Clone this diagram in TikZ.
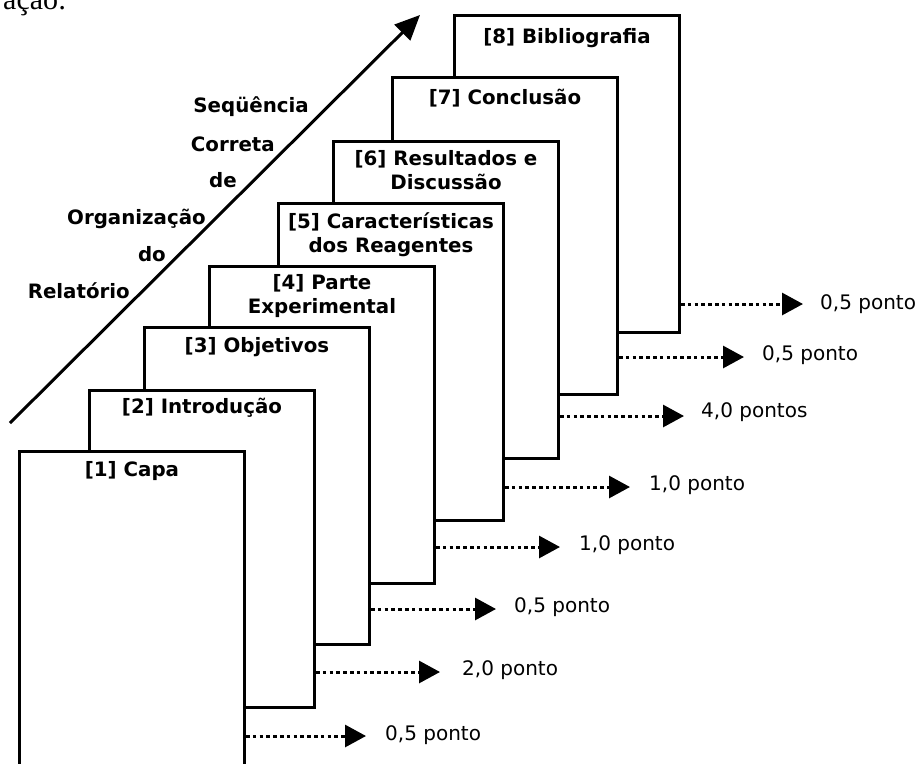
\documentclass[tikz,border=0pt]{standalone}
\usepackage{fontspec}
\setmainfont{DejaVu Sans}
\newfontfamily\serifpart{Liberation Serif}
\usetikzlibrary{arrows.meta}
\tikzset{
  pg/.style={draw, line width=3pt, fill=white, minimum width=225pt, minimum height=317pt, inner sep=0pt, anchor=north west},
  ttl/.style={font=\bfseries\fontsize{19.8}{24}\selectfont, align=center, inner sep=0pt, anchor=base},
  pts/.style={font=\fontsize{20}{24}\selectfont, inner sep=0pt, anchor=base west},
  seqw/.style={font=\bfseries\fontsize{19.8}{24}\selectfont, inner sep=0pt, anchor=base east},
  dotarr/.style={line width=3pt, dash pattern=on 3.5pt off 3.3pt, -{Triangle[length=21pt,width=22pt]}},
  mainarr/.style={line width=3pt, -{Triangle[length=25pt,width=22pt]}},
}
\begin{document}
\begin{tikzpicture}[x=1pt,y=-1pt]
\useasboundingbox (0,0) rectangle (918,763);
\clip (0,0) rectangle (918,763);
\fill[white] (0,0) rectangle (918,763);
% fragment of page text (cut at the top edge, as in the source)
\node[font=\serifpart\fontsize{30}{34}\selectfont, inner sep=0pt, anchor=base west] (frag) at (3,9) {ação:};
% main arrow
\coordinate (a0) at (10,423);
\coordinate (a1) at (420,15);
\draw[mainarr] (a0) -- (a1);
\node[seqw] (w1) at (309,112) {Seqüência};
\node[seqw] (w2) at (275,151) {Correta};
\node[seqw] (w3) at (237,187) {de};
\node[seqw] (w4) at (206,224) {Organização};
\node[seqw] (w5) at (166,261) {do};
\node[seqw] (w6) at (130,298) {Relatório};
% pages, back to front
\node[pg] (b8) at (453,14) {};
\node[pg] (b7) at (391,76) {};
\node[pg] (b6) at (332,140) {};
\node[pg] (b5) at (277,202) {};
\node[pg] (b4) at (208,265) {};
\node[pg] (b3) at (143,326) {};
\node[pg] (b2) at (88,389) {};
\node[pg] (b1) at (18,450) {};
% titles (base anchor = baseline of the last line)
\node[ttl] (t8) at (b8.north |- 0,43) {[8] Bibliografia};
\node[ttl] (t7) at (b7.north |- 0,104) {[7] Conclusão};
\node[ttl] (t6) at (b6.north |- 0,189) {[6] Resultados e\\Discussão};
\node[ttl] (t5) at (b5.north |- 0,252) {[5] Características\\dos Reagentes};
\node[ttl] (t4) at (b4.north |- 0,313) {[4] Parte\\Experimental};
\node[ttl] (t3) at (b3.north |- 0,352) {[3] Objetivos};
\node[ttl] (t2) at (b2.north |- 0,413) {[2] Introdução};
\node[ttl] (t1) at (b1.north |- 0,476) {[1] Capa};
% point arrows
\coordinate (e8) at (803,304);
\coordinate (e7) at (744,357);
\coordinate (e6) at (684,416);
\coordinate (e5) at (630,487);
\coordinate (e4) at (560,547);
\coordinate (e3) at (496,609);
\coordinate (e2) at (440,672);
\coordinate (e1) at (366,736);
\draw[dotarr] (b8.east |- e8) -- (e8);
\draw[dotarr] (b7.east |- e7) -- (e7);
\draw[dotarr] (b6.east |- e6) -- (e6);
\draw[dotarr] (b5.east |- e5) -- (e5);
\draw[dotarr] (b4.east |- e4) -- (e4);
\draw[dotarr] (b3.east |- e3) -- (e3);
\draw[dotarr] (b2.east |- e2) -- (e2);
\draw[dotarr] (b1.east |- e1) -- (e1);
\node[pts] (l8) at (820,309) {0,5 ponto};
\node[pts] (l7) at (762,360) {0,5 ponto};
\node[pts] (l6) at (701,417) {4,0 pontos};
\node[pts] (l5) at (649,490) {1,0 ponto};
\node[pts] (l4) at (579,550) {1,0 ponto};
\node[pts] (l3) at (514,612) {0,5 ponto};
\node[pts] (l2) at (462,675) {2,0 ponto};
\node[pts] (l1) at (385,740) {0,5 ponto};
\end{tikzpicture}
\end{document}
